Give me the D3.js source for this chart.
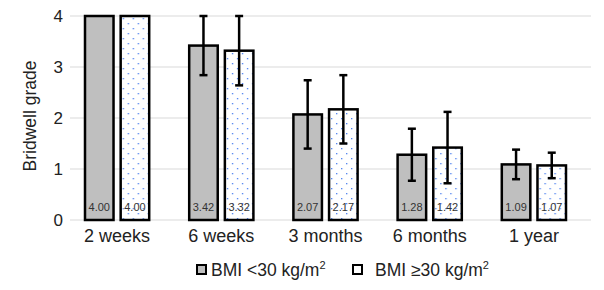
<!DOCTYPE html>
<html>
<head>
<meta charset="utf-8">
<script src="https://cdn.jsdelivr.net/npm/d3@7"></script>
<style>
  body { margin: 0; background: #fff; }
  text { font-family: "Liberation Sans", Arial, sans-serif; }
</style>
</head>
<body>
<div id="chart"></div>
<script>
// data
var categories = ["2 weeks", "6 weeks", "3 months", "6 months", "1 year"];
var seriesNames = ["BMI <30 kg/m", "BMI \u226530 kg/m"];
var lowBmi = [4.00, 3.42, 2.07, 1.28, 1.09];
var highBmi = [4.00, 3.32, 2.17, 1.42, 1.07];
var lowBmiSd = [0, 0.58, 0.67, 0.51, 0.29];
var highBmiSd = [0, 0.68, 0.67, 0.70, 0.25];
var yTicks = [0, 1, 2, 3, 4];

var margin = { top: 16, right: 18, bottom: 70, left: 65 },
  width = 604 - margin.left - margin.right,
  height = 290 - margin.top - margin.bottom;

var svg = d3
  .select("#chart")
  .append("svg")
  .attr("width", 604)
  .attr("height", 290);

// dotted fill for second series
var defs = svg.append("defs");
var pat = defs
  .append("pattern")
  .attr("id", "dots")
  .attr("patternUnits", "userSpaceOnUse")
  .attr("width", 10)
  .attr("height", 10);
pat.append("rect").attr("width", 10).attr("height", 10).attr("fill", "#fff");
pat.append("rect").attr("x", 2).attr("y", 2).attr("width", 1.3).attr("height", 1.3).attr("fill", "#4a7ef0");
pat.append("rect").attr("x", 7).attr("y", 7).attr("width", 1.3).attr("height", 1.3).attr("fill", "#4a7ef0");

var g = svg
  .append("g")
  .attr("transform", "translate(" + margin.left + "," + margin.top + ")");

var x = d3.scaleBand().domain(categories).range([0, width]);
var x1 = d3.scaleBand().domain([0, 1]).range([20, x.bandwidth() - 20]).paddingInner(0.2);
var y = d3.scaleLinear().domain([0, 4]).range([height, 0]);

// grid lines
g.selectAll(".grid")
  .data(yTicks)
  .enter()
  .append("line")
  .attr("x1", 5)
  .attr("x2", width + 5)
  .attr("y1", (d) => y(d))
  .attr("y2", (d) => y(d))
  .attr("stroke", "#d9d9d9")
  .attr("stroke-width", 1);

// y axis labels
var yAxis = g.append("g").call(d3.axisLeft(y).tickValues(yTicks).tickFormat(d3.format("d")).tickSize(0).tickPadding(2));
yAxis.select(".domain").remove();
yAxis.selectAll("text").attr("font-size", "17px").attr("fill", "#222").style("font-family", "Liberation Sans, Arial, sans-serif");

svg
  .append("text")
  .attr("transform", "rotate(-90)")
  .attr("x", -(margin.top + height / 2 - 2))
  .attr("y", 36)
  .attr("text-anchor", "middle")
  .attr("font-size", "17.5px")
  .attr("fill", "#222")
  .text("Bridwell grade");

// x axis labels
var xAxis = g
  .append("g")
  .attr("transform", "translate(0," + height + ")")
  .call(d3.axisBottom(x).tickSize(0).tickPadding(9));
xAxis.select(".domain").remove();
xAxis.selectAll("text").attr("font-size", "18px").attr("fill", "#222").style("font-family", "Liberation Sans, Arial, sans-serif");

var rows = categories.map(function (c, i) {
  return [
    { cat: c, s: 0, v: lowBmi[i], sd: lowBmiSd[i] },
    { cat: c, s: 1, v: highBmi[i], sd: highBmiSd[i] },
  ];
});
var flat = [].concat.apply([], rows);

var bars = g
  .selectAll(".bar")
  .data(flat)
  .enter()
  .append("g")
  .attr("transform", (d) => "translate(" + (x(d.cat) + x1(d.s)) + ",0)");

bars
  .append("rect")
  .attr("y", (d) => y(d.v))
  .attr("width", x1.bandwidth())
  .attr("height", (d) => height - y(d.v))
  .attr("fill", (d) => (d.s === 0 ? "#bfbfbf" : "url(#dots)"))
  .attr("stroke", "#000")
  .attr("stroke-width", 2.5);

// value labels
bars
  .append("text")
  .attr("x", x1.bandwidth() / 2)
  .attr("y", height - 9)
  .attr("text-anchor", "middle")
  .attr("font-size", "11px")
  .attr("fill", "#333")
  .text((d) => d.v.toFixed(2));

// error bars
var err = bars.filter((d) => d.sd > 0);
var cx = x1.bandwidth() / 2;
err
  .append("line")
  .attr("x1", cx)
  .attr("x2", cx)
  .attr("y1", (d) => y(d.v + d.sd))
  .attr("y2", (d) => y(d.v - d.sd))
  .attr("stroke", "#000")
  .attr("stroke-width", 2.5);
[1, -1].forEach(function (k) {
  err
    .append("line")
    .attr("x1", cx - 4)
    .attr("x2", cx + 4)
    .attr("y1", (d) => y(d.v + k * d.sd))
    .attr("y2", (d) => y(d.v + k * d.sd))
    .attr("stroke", "#000")
    .attr("stroke-width", 2.5);
});

// legend
var legendX = [197, 353];
var legend = svg
  .selectAll(".legend")
  .data(seriesNames)
  .enter()
  .append("g")
  .attr("transform", (d, i) => "translate(" + legendX[i] + ",265)");
legend
  .append("rect")
  .attr("width", 9)
  .attr("height", 9)
  .attr("fill", (d, i) => (i === 0 ? "#bfbfbf" : "#fff"))
  .attr("stroke", "#000")
  .attr("stroke-width", 2);
legend
  .append("text")
  .attr("x", (d, i) => (i === 0 ? 14 : 22))
  .attr("y", 11)
  .attr("font-size", "17.5px")
  .attr("fill", "#222")
  .text((d) => d)
  .append("tspan")
  .attr("dy", -7)
  .attr("font-size", "11px")
  .text("2");
</script>
</body>
</html>
